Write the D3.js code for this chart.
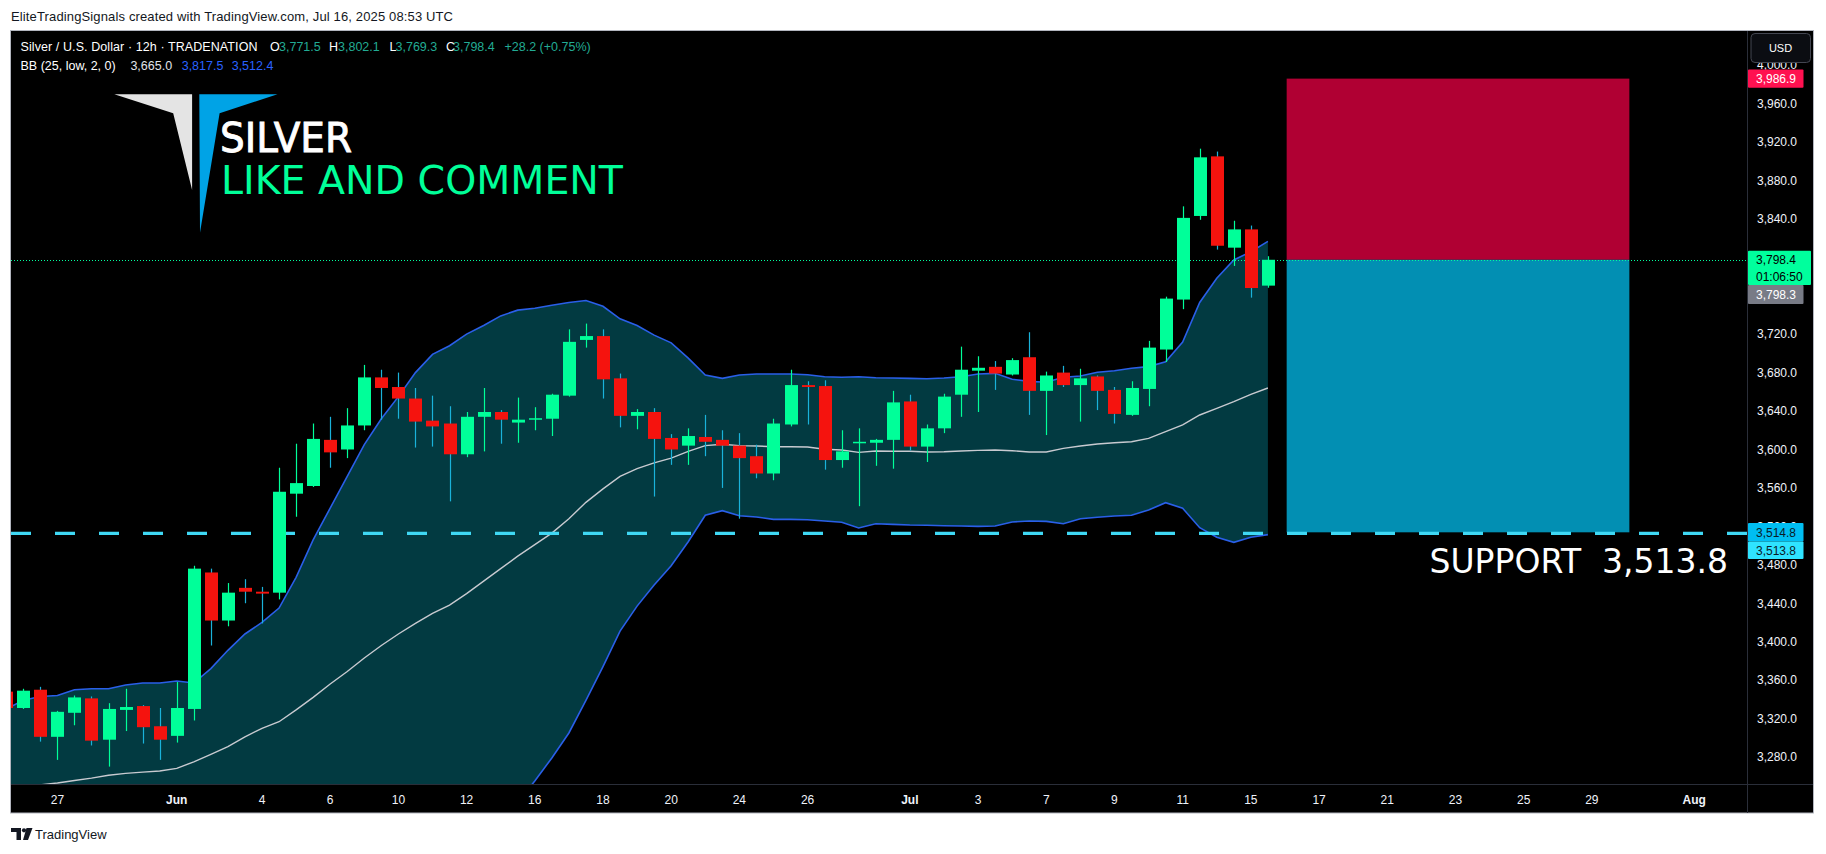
<!DOCTYPE html>
<html><head><meta charset="utf-8">
<script src="https://cdn.jsdelivr.net/npm/d3@7"></script>
<style>html,body{margin:0;padding:0;background:#fff;} svg{display:block}</style>
</head><body>
<svg id="c" width="1826" height="854"></svg>
<script>
// ---------- DATA (12h bars, bar 0 is the partly hidden first candle) ----------
const opens  = [3349,3332,3351,3302,3327,3342,3299,3330,3334,3313,3303,3331,3473,3423,3457,3453,3452,3555,3563,3611,3601,3626,3676,3666,3654,3631,3628,3596,3635,3640,3629,3632.5,3633,3657,3715,3719,3675,3636,3640,3613,3605,3614,3611,3605,3594,3576,3627,3668,3667,3590,3608,3608,3611,3651,3604,3623,3658,3683,3687,3679,3697,3662,3681,3668,3677,3663,3637,3664,3705,3757,3844,3906,3811,3830,3771.5];
const highs  = [3352,3352,3354,3329,3345,3344,3337,3352,3335,3332,3359,3480,3477,3462,3466,3458,3582,3607,3628,3635,3644,3689,3684,3681,3665,3657,3646,3640,3665,3642,3655,3645,3659,3726,3732,3726,3680,3643,3644,3617,3623,3637,3621,3618,3606,3633,3684,3672,3673,3621,3623,3612,3662,3658,3627,3659,3708,3698,3693,3696,3723,3682,3688,3685,3678,3666,3672,3714,3760,3854,3914,3911,3839,3834,3802.1];
const lows   = [3328,3331,3297,3278,3314,3293,3271,3308,3295,3278,3296,3319,3397,3417,3441,3420,3445,3531,3562,3582,3592,3621,3632,3633,3603,3604,3547,3593,3599,3607,3608,3621,3615,3656,3707,3654,3624,3622,3552,3585,3585,3594,3561,3529,3571,3569,3625,3627,3580,3582,3542,3584,3581,3600,3588,3618,3635,3640,3663,3678,3637,3616,3666,3630,3642,3628,3636,3646,3692,3747,3840,3809,3792,3759,3769.3];
const closes = [3332,3350,3302,3328,3343,3298,3331,3333,3312,3299,3332,3477,3423,3452,3453,3451,3557,3566,3612,3598,3626,3676,3665,3654,3630,3625,3596,3635,3640,3632,3632,3633.5,3658,3713,3719,3674,3636,3640,3612,3601,3615,3609,3605,3592,3576,3628,3668,3666,3590,3599,3609,3611,3650,3604,3623,3656,3684,3686,3680,3694,3662,3678,3668,3675,3662,3638,3665,3707,3758,3842,3905,3813,3830,3769,3798.4];

const bbUpper  = [3331,3340,3344,3345,3351,3352,3352,3356,3358,3358,3360,3358,3373,3392,3409,3421,3436,3468,3507,3540,3573,3606,3633,3656,3681,3700,3709,3721,3730,3740,3746,3748,3751,3754,3756,3750,3737,3730,3720,3712,3696,3678.5,3675,3678.5,3679.6,3679.6,3679.6,3678.8,3676.7,3676.1,3676.7,3675.7,3675.4,3675,3674.6,3675.4,3676.7,3679.6,3680.2,3674,3671.9,3670.9,3676.1,3677.5,3681.3,3683,3685.5,3687.2,3692.3,3712.8,3754,3779.1,3798.2,3806.8,3817.5];
const bbMiddle = [3248,3250,3252,3254,3256.5,3259,3262,3264,3265.3,3266.4,3269.2,3276,3283.8,3291.7,3302,3310.8,3317.7,3330,3343,3357,3370,3384,3397,3409,3420,3430.5,3439,3451,3464,3477,3490,3502,3514,3529,3546,3560,3573,3581,3587,3592,3599,3605,3606.4,3605,3604.6,3603.9,3603.9,3603.6,3601.2,3600.4,3598,3599.4,3599.1,3599.1,3598.4,3598.7,3599.4,3600.1,3600.4,3599.7,3598.4,3598.4,3602.2,3604.6,3606.7,3608,3609.1,3612.6,3619.5,3626.5,3636.9,3643.8,3650.7,3658.4,3665.0];
const bbLower  = [3165,3160,3160,3163,3162,3166,3172,3172,3172,3174,3178,3194,3195,3192,3195,3201,3200,3192,3179,3174,3167,3162,3161,3162,3159,3160,3169,3181,3198,3214,3234,3256,3280,3306,3340,3375,3412,3438,3460,3480,3505,3532.5,3537.3,3532.1,3530.7,3528.3,3528.3,3527.9,3526.6,3525.2,3519.3,3523.7,3523.1,3522.4,3522.1,3521.7,3521.4,3521,3521.4,3525.5,3526.6,3526.2,3523.7,3528.9,3530.4,3531.7,3532.5,3538,3545.6,3539.8,3519.6,3509.6,3504.4,3509.6,3512.4];

const priceTicks = [4000,3960,3920,3880,3840,3800,3760,3720,3680,3640,3600,3560,3520,3480,3440,3400,3360,3320,3280];
const timeTickLabels = ["27","Jun","4","6","10","12","16","18","20","24","26","Jul","3","7","9","11","15","17","21","23","25","29","Aug"];
const timeTickBars   = [3,10,15,19,23,27,31,35,39,43,47,53,57,61,65,69,73,77,81,85,89,93,99];
const monthLabels = ["Jun","Jul","Aug"];

const stopPrice = 3986.9, entryPrice = 3798.4, targetPrice = 3514.8, supportPrice = 3513.8;
const lastPrice = 3798.4, positionPrice = 3798.3, countdown = "01:06:50";
const boxStartBar = 75.1, boxEndBar = 95.2;

// ---------- LAYOUT ----------
const P = {left:11, right:1747, top:30, bottom:784};
const svg = d3.select("#c");
const FONT = "'Liberation Sans', Arial, sans-serif";

const x = d3.scaleLinear().domain([0.2786, 102.10]).range([P.left, P.right]);
const y = d3.scaleLinear().domain([3252.9, 4037.5]).range([P.bottom, P.top]);

// header
svg.append("text").attr("x",11).attr("y",21).attr("font-family",FONT).attr("font-size",13)
  .attr("fill","#131722").attr("textLength",442).attr("lengthAdjust","spacing")
  .text("EliteTradingSignals created with TradingView.com, Jul 16, 2025 08:53 UTC");

// chart frame
svg.append("rect").attr("x",10.5).attr("y",30.5).attr("width",1803).attr("height",782.5)
  .attr("fill","#000").attr("stroke","#b2b5be").attr("stroke-width",1);
svg.append("line").attr("x1",P.left).attr("x2",1813).attr("y1",P.bottom+0.5).attr("y2",P.bottom+0.5).attr("stroke","#2a2e39");
svg.append("line").attr("x1",P.right+0.5).attr("x2",P.right+0.5).attr("y1",31).attr("y2",813).attr("stroke","#2a2e39");

svg.append("defs").append("clipPath").attr("id","plot").append("rect")
  .attr("x",P.left).attr("y",P.top+1).attr("width",P.right-P.left).attr("height",P.bottom-P.top-1);
const g = svg.append("g").attr("clip-path","url(#plot)");

const idx = d3.range(closes.length);

// Bollinger band fill + lines
g.append("path").datum(idx).attr("fill","#023a41")
  .attr("d", d3.area().x(i=>x(i)).y0(i=>y(bbLower[i])).y1(i=>y(bbUpper[i])));
const line = arr => d3.line().x(i=>x(i)).y(i=>y(arr[i]));
g.append("path").datum(idx).attr("fill","none").attr("stroke","#c8cad0").attr("stroke-width",1.4).attr("d", line(bbMiddle));
g.append("path").datum(idx).attr("fill","none").attr("stroke","#2a5fe8").attr("stroke-width",1.6).attr("d", line(bbUpper));
g.append("path").datum(idx).attr("fill","none").attr("stroke","#2a5fe8").attr("stroke-width",1.6).attr("d", line(bbLower));

// position box
g.append("rect").attr("x",x(boxStartBar)).attr("width",x(boxEndBar)-x(boxStartBar))
  .attr("y",y(stopPrice)).attr("height",y(entryPrice)-y(stopPrice)).attr("fill","#b00033");
g.append("rect").attr("x",x(boxStartBar)).attr("width",x(boxEndBar)-x(boxStartBar))
  .attr("y",y(entryPrice)).attr("height",y(targetPrice)-y(entryPrice)).attr("fill","#028fb3");

// support dashed line
g.append("line").attr("x1",P.left).attr("x2",P.right).attr("y1",y(supportPrice)).attr("y2",y(supportPrice))
  .attr("stroke","#3fd8f4").attr("stroke-width",3.2).attr("stroke-dasharray","20,24");

// last price dotted line
g.append("line").attr("x1",P.left).attr("x2",P.right).attr("y1",Math.round(y(lastPrice))+0.5).attr("y2",Math.round(y(lastPrice))+0.5)
  .attr("stroke","#00ff9d").attr("stroke-width",1).attr("stroke-dasharray","1,2");

// candles
const UP="#00ff99", DN="#f5130e", WUP="#00ff99", WDN="#1ab2da";
const cg = g.append("g");
idx.forEach(i=>{
  const up = closes[i] >= opens[i];
  const cx = Math.round(x(i)) + 0.5;
  cg.append("line").attr("x1",cx).attr("x2",cx).attr("y1",y(highs[i])).attr("y2",y(lows[i]))
    .attr("stroke", up?WUP:WDN).attr("stroke-width",1.2);
  const top = y(Math.max(opens[i],closes[i])), bot = y(Math.min(opens[i],closes[i]));
  cg.append("rect").attr("x",cx-6.5).attr("width",13).attr("y",top).attr("height",Math.max(1.5,bot-top))
    .attr("fill", up?UP:DN);
});

// SUPPORT text
g.append("text").attr("x",1728).attr("y",573).attr("text-anchor","end")
  .attr("font-family","'DejaVu Sans', sans-serif").attr("font-size",33).attr("fill","#fff")
  .text("SUPPORT\u00A0\u00A0" + d3.format(",.1f")(supportPrice));

// logo watermark
svg.append("path").attr("d","M114.3,94.3 L192.1,94.3 L192.1,190 L173.2,113.3 Z").attr("fill","#e4e4e4");
svg.append("path").attr("d","M199.3,94.3 L277.5,94.3 L219.6,113.3 L200,232.7 Z").attr("fill","#00a3e6");
svg.append("text").attr("x",220).attr("y",152).attr("font-family","'DejaVu Sans', sans-serif").attr("font-size",40)
  .attr("fill","#fff").attr("stroke","#fff").attr("stroke-width",0.9)
  .attr("textLength",132).attr("lengthAdjust","spacingAndGlyphs").text("SILVER");
svg.append("text").attr("x",221).attr("y",194).attr("font-family","'DejaVu Sans', sans-serif").attr("font-size",38.5)
  .attr("fill","#00ff99").attr("textLength",402).attr("lengthAdjust","spacingAndGlyphs").text("LIKE AND COMMENT");

// legend
const legend = [
  {t:"Silver / U.S. Dollar · 12h · TRADENATION", x:20.5, y:51, c:"#ffffff", w:237},
  {t:"O", x:270, y:51, c:"#ffffff"}, {t:"3,771.5", x:279, y:51, c:"#22ab94"},
  {t:"H", x:329, y:51, c:"#ffffff"}, {t:"3,802.1", x:338, y:51, c:"#22ab94"},
  {t:"L", x:389.5, y:51, c:"#ffffff"}, {t:"3,769.3", x:395.5, y:51, c:"#22ab94"},
  {t:"C", x:446, y:51, c:"#ffffff"}, {t:"3,798.4", x:453, y:51, c:"#22ab94"},
  {t:"+28.2 (+0.75%)", x:504.5, y:51, c:"#22ab94"},
  {t:"BB (25, low, 2, 0)", x:20.5, y:69.5, c:"#ffffff"},
  {t:d3.format(",.1f")(bbMiddle[bbMiddle.length-1]), x:130.4, y:69.5, c:"#e0e3eb"},
  {t:d3.format(",.1f")(bbUpper[bbUpper.length-1]), x:181.7, y:69.5, c:"#2962ff"},
  {t:d3.format(",.1f")(bbLower[bbLower.length-1]), x:231.7, y:69.5, c:"#2962ff"}
];
svg.selectAll("text.lg").data(legend).enter().append("text").attr("class","lg")
  .attr("x",d=>d.x).attr("y",d=>d.y).attr("fill",d=>d.c).attr("font-family",FONT).attr("font-size",12.5)
  .each(function(d){ if(d.w) d3.select(this).attr("textLength",d.w).attr("lengthAdjust","spacing"); })
  .text(d=>d.t);

// price axis ticks
const fmt = d3.format(",.1f");
svg.append("g").selectAll("text").data(priceTicks).enter().append("text")
  .attr("x",1757).attr("y",d=>y(d)-1).attr("dy","0.36em").attr("font-family",FONT).attr("font-size",12)
  .attr("fill","#f0f3fa").text(d=>fmt(d));

// time axis ticks
svg.append("g").selectAll("text").data(timeTickLabels).enter().append("text")
  .attr("x",(d,i)=>x(timeTickBars[i])).attr("y",803.5).attr("text-anchor","middle")
  .attr("font-family",FONT).attr("font-size",12).attr("font-weight",d=>monthLabels.includes(d)?"bold":"normal")
  .attr("fill","#f0f3fa").text(d=>d);

// USD button
svg.append("rect").attr("x",1751).attr("y",33.5).attr("width",59.5).attr("height",29).attr("rx",4)
  .attr("fill","#0b0d12").attr("stroke","#434651");
svg.append("text").attr("x",1780.5).attr("y",52).attr("text-anchor","middle").attr("font-family",FONT)
  .attr("font-size",11).attr("fill","#ffffff").text("USD");

// price labels
function tag(top, h, w, fill, lines, tc){
  svg.append("rect").attr("x",1748).attr("y",top).attr("width",w).attr("height",h).attr("rx",1).attr("fill",fill);
  lines.forEach((t,k)=>{
    svg.append("text").attr("x",1756).attr("y",top + (h/lines.length)*(k+0.5)).attr("dy","0.36em")
      .attr("font-family",FONT).attr("font-size",12).attr("fill",tc).text(t);
  });
}
tag(y(stopPrice)-9.2, 18.4, 55.5, "#ff1150", [fmt(stopPrice)], "#ffffff");
tag(y(lastPrice)-9, 34.3, 63, "#00ff9d", [fmt(lastPrice), countdown], "#000000");
tag(y(lastPrice)+25.3, 19, 55.5, "#787b86", [fmt(positionPrice)], "#ffffff");
tag(y(targetPrice)-9.2, 18.4, 55.5, "#00bef2", [fmt(targetPrice)], "#0b1a26");
tag(y(targetPrice)+9.2, 17.6, 55.5, "#2fe3ff", [fmt(supportPrice)], "#0b1a26");

// TradingView footer logo
const lg = svg.append("g").attr("fill","#131722");
lg.append("path").attr("d","M11,828 H21 V840 H16.5 V832 H11 Z");
lg.append("circle").attr("cx",24).attr("cy",830.3).attr("r",2.1);
lg.append("path").attr("d","M26.5,828 H32.5 L28,840 H23 Z");
svg.append("text").attr("x",35).attr("y",839).attr("font-family",FONT).attr("font-size",13)
  .attr("fill","#131722").text("TradingView");
</script>
</body></html>
